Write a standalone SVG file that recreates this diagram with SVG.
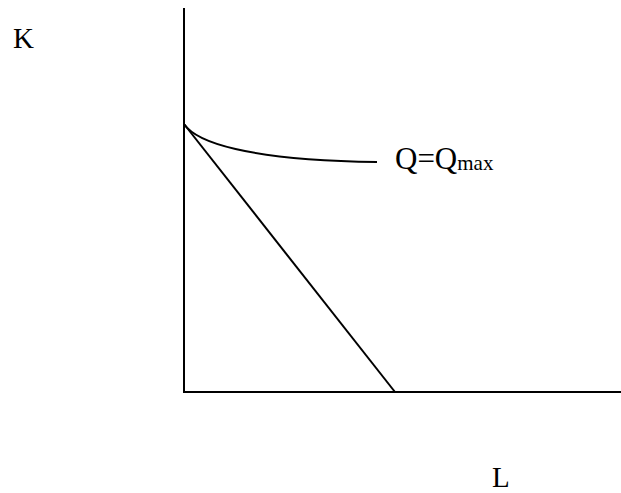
<svg xmlns="http://www.w3.org/2000/svg" width="621" height="493" viewBox="0 0 621 493">
<style>
.ln{fill:none;stroke:#000;stroke-width:2}
.t{font-family:"Liberation Serif","Times New Roman",serif;font-size:29px;fill:#000}
.q{font-size:31px}
.s{font-size:21px}
</style>
<rect width="621" height="493" fill="#fff"/>
<g id="axes">
<line class="ln" x1="184" y1="8" x2="184" y2="392"/>
<line class="ln" x1="183" y1="392" x2="621" y2="392"/>
</g>
<g id="connectors">
<line class="ln" x1="184" y1="124" x2="395" y2="392"/>
<path class="ln" d="M184,124 C196,142 245,160 377,162"/>
</g>
<g id="label-K"><text class="t" x="13" y="48">K</text></g>
<g id="label-L"><text class="t" x="492" y="487">L</text></g>
<g id="label-Q"><text class="t q" x="395" y="169">Q=Q<tspan class="s" dy="1">max</tspan></text></g>
</svg>
